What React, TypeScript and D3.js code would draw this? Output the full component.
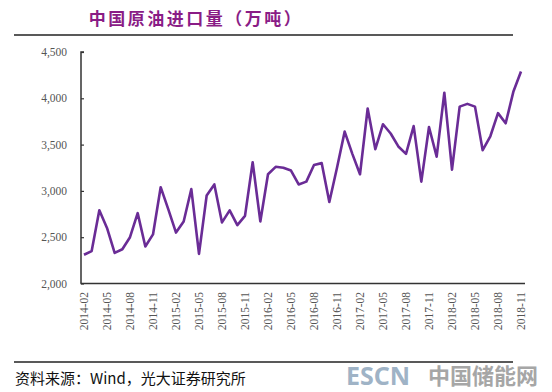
import React, { useEffect, useRef } from 'react';
import * as d3 from 'd3';

// monthly imports, 2014-02 .. 2018-11 (万吨)
const months: string[] = [];
for (let y = 2014; y <= 2018; y++) {
  for (let m = 1; m <= 12; m++) {
    if (y === 2014 && m < 2) continue;
    if (y === 2018 && m > 11) continue;
    months.push(`${y}-${String(m).padStart(2, '0')}`);
  }
}

const imports = [
  2310, 2350, 2790, 2600, 2330, 2370, 2500, 2760, 2400, 2530, 3040,
  2800, 2550, 2670, 3020, 2320, 2950, 3070, 2660, 2790, 2630, 2730, 3310,
  2670, 3180, 3260, 3250, 3220, 3070, 3100, 3280, 3300, 2880, 3250, 3640,
  3400, 3180, 3890, 3450, 3720, 3620, 3480, 3400, 3700, 3100, 3690, 3370,
  4060, 3230, 3910, 3940, 3910, 3440, 3590, 3840, 3730, 4070, 4290,
];

const yTicks = [2000, 2500, 3000, 3500, 4000, 4500];
const xTickLabels = months.filter((_, i) => i % 3 === 0);

const App = () => {
  const svgRef = useRef<SVGSVGElement>(null);

  useEffect(() => {
    const svg = d3.select(svgRef.current);
    svg.selectAll('*').remove();

    const x = d3.scalePoint<string>().domain(months).range([84, 521]);
    const y = d3.scaleLinear().domain([2000, 4500]).range([283.5, 52]);

    // title + rules
    svg.append('text')
      .attr('x', 196).attr('y', 25)
      .attr('text-anchor', 'middle')
      .attr('font-family', '"Noto Sans CJK SC", sans-serif')
      .attr('font-weight', 'bold')
      .attr('font-size', 17)
      .attr('letter-spacing', 2.5)
      .attr('fill', '#8a1c86')
      .text('中国原油进口量（万吨）');

    svg.append('line')
      .attr('x1', 14).attr('x2', 513).attr('y1', 35).attr('y2', 35)
      .attr('stroke', '#222').attr('stroke-width', 1.5);
    svg.append('line')
      .attr('x1', 14).attr('x2', 513).attr('y1', 362).attr('y2', 362)
      .attr('stroke', '#222').attr('stroke-width', 1.5);

    // y axis
    const yAxis = d3.axisRight(y).tickValues(yTicks).tickSize(3).tickFormat(() => '');
    const gy = svg.append('g').attr('transform', 'translate(81,0)').call(yAxis);
    gy.select('.domain').attr('stroke', '#333').attr('stroke-width', 1.5)
      .attr('d', `M3,${y(4500)}H0V${y(2000)}`);
    gy.selectAll('.tick line').attr('stroke', '#333').attr('stroke-width', 1.2);

    svg.append('g').selectAll('text')
      .data(yTicks)
      .enter()
      .append('text')
      .attr('x', 67)
      .attr('y', d => y(d) + 4)
      .attr('text-anchor', 'end')
      .attr('font-family', '"Liberation Serif", serif')
      .attr('font-size', 11.5)
      .attr('fill', '#555')
      .text(d => d3.format(',')(d));

    // x axis
    svg.append('line')
      .attr('x1', 80.5).attr('x2', 525).attr('y1', 283.5).attr('y2', 283.5)
      .attr('stroke', '#333').attr('stroke-width', 1.5);

    svg.append('g').selectAll('text')
      .data(xTickLabels)
      .enter()
      .append('text')
      .attr('transform', d => `translate(${(x(d) as number) + 4},292) rotate(-90)`)
      .attr('text-anchor', 'end')
      .attr('font-family', '"Liberation Serif", serif')
      .attr('font-size', 11.5)
      .attr('fill', '#555')
      .text(d => d);

    // line
    const line = d3.line<number>()
      .x((_, i) => x(months[i]) as number)
      .y(d => y(d));

    svg.append('path')
      .datum(imports)
      .attr('fill', 'none')
      .attr('stroke', '#6a2c96')
      .attr('stroke-width', 2.6)
      .attr('stroke-linejoin', 'round')
      .attr('d', line);

    // footer
    svg.append('text')
      .attr('x', 15).attr('y', 384)
      .attr('font-family', '"Noto Sans CJK SC", sans-serif')
      .attr('font-size', 15)
      .attr('fill', '#111')
      .text('资料来源：Wind，光大证券研究所');

    svg.append('text')
      .attr('x', 346).attr('y', 385)
      .attr('font-family', '"Noto Sans", sans-serif')
      .attr('font-weight', 'bold')
      .attr('font-size', 25)
      .attr('fill', '#9fb3c6')
      .text('ESCN');
    svg.append('text')
      .attr('x', 428).attr('y', 384)
      .attr('font-family', '"Noto Sans CJK SC", sans-serif')
      .attr('font-weight', 'bold')
      .attr('font-size', 22)
      .attr('fill', '#a6a6a6')
      .text('中国储能网');
  }, []);

  return (
    <svg
      ref={svgRef}
      width={552}
      height={392}
      style={{ position: 'absolute', left: 0, top: 0, background: '#fff' }}
    />
  );
};

export default App;
